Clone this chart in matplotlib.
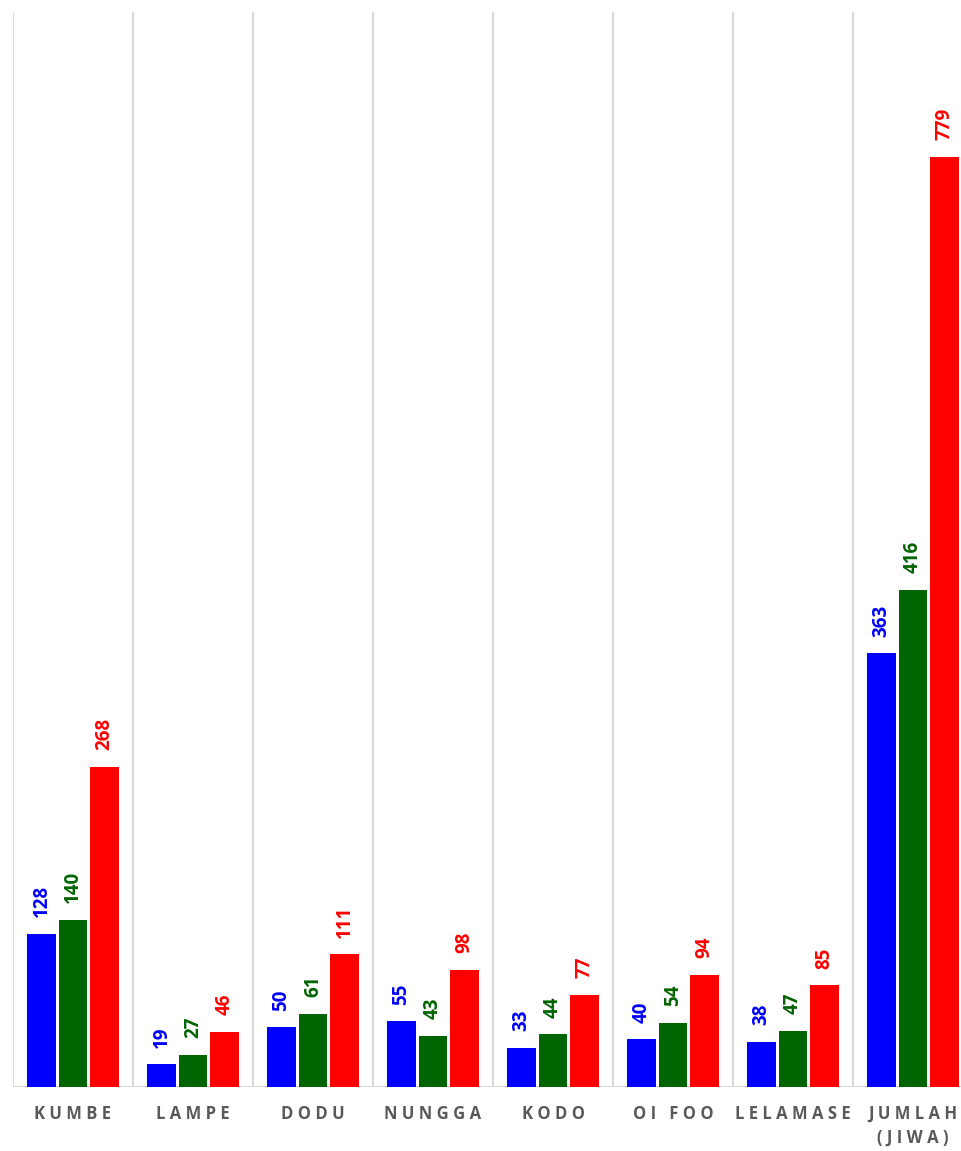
import matplotlib
matplotlib.use("Agg")
import matplotlib.pyplot as plt
import numpy as np

categories = ["KUMBE", "LAMPE", "DODU", "NUNGGA", "KODO", "OI FOO", "LELAMASE", "JUMLAH\n(JIWA)"]
series_a = [128, 19, 50, 55, 33, 40, 38, 363]
series_b = [140, 27, 61, 43, 44, 54, 47, 416]
series_c = [268, 46, 111, 98, 77, 94, 85, 779]
colors = ["#0000FF", "#006400", "#FF0000"]

def spaced(s):
    lines = []
    for line in s.split("\n"):
        words = [" ".join(list(w)) for w in line.split(" ")]
        lines.append("   ".join(words))
    return "\n".join(lines)

fig = plt.figure(figsize=(9.61, 11.51), dpi=100)
ax = fig.add_axes([13/961, 64/1151, 960/961, 1075/1151])

x = np.arange(len(categories))
width = 0.24
step = 0.2625
for i, (vals, c) in enumerate(zip([series_a, series_b, series_c], colors)):
    pos = x + (i - 1) * step
    ax.bar(pos, vals, width=width, color=c, linewidth=0, zorder=3)
    for p, v in zip(pos, vals):
        ax.annotate(str(v), (p, v), xytext=(0, 12), textcoords="offset points",
                    rotation=90, ha="center", va="bottom", color=c,
                    fontsize=13.5, fontweight="bold", family="Open Sans", zorder=4)

ax.set_xlim(-0.5, len(categories) - 0.5)
ax.set_ylim(0, 900)
for b in np.arange(-0.5, len(categories), 1.0):
    ax.axvline(b, color="#D9D9D9", linewidth=1.5, zorder=1)
ax.axhline(0, color="#D9D9D9", linewidth=1.5, zorder=2)

for s in ax.spines.values():
    s.set_visible(False)
ax.set_yticks([])
ax.set_xticks(x)
ax.set_xticklabels([spaced(c) for c in categories], fontsize=12, fontweight="bold",
                   color="#595959", family="Open Sans", linespacing=1.4)
ax.tick_params(axis="x", length=0, pad=13)

fig.savefig("out.png", dpi=100)
